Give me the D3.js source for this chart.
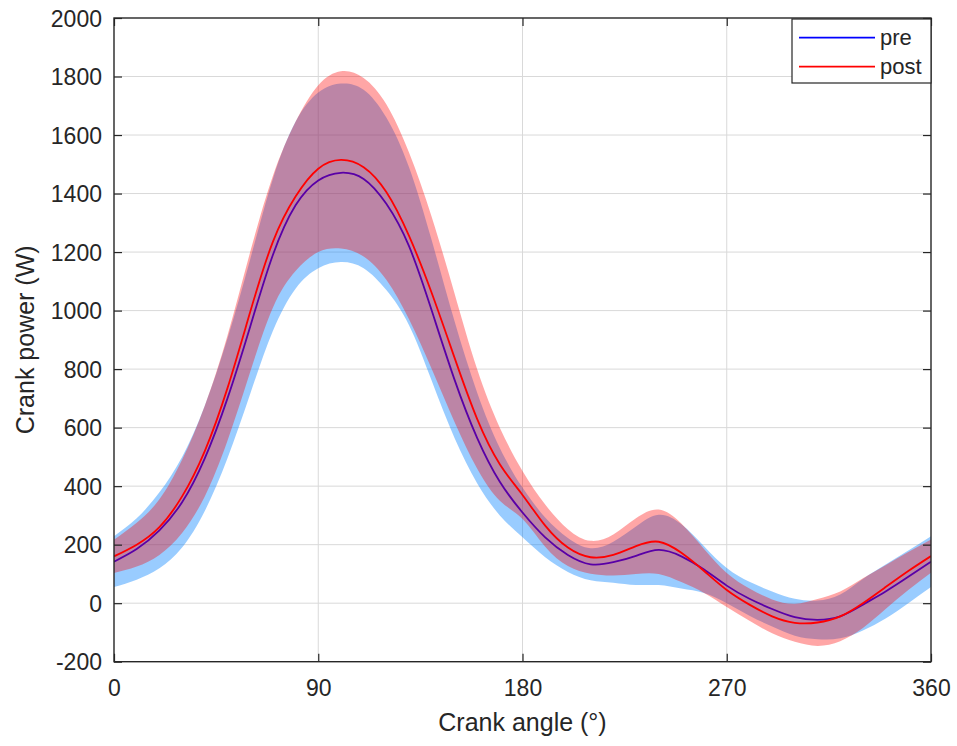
<!DOCTYPE html>
<html><head><meta charset="utf-8">
<script src="https://cdn.jsdelivr.net/npm/d3@7"></script>
<style>
body{margin:0;background:#fff;}
text{font-family:Arial,"Liberation Sans",Helvetica,sans-serif;fill:#262626;}
</style>
</head><body>
<svg id="c" width="957" height="746"></svg>
<script>
const angles   = [0,10,20,30,40,50,60,70,80,90,100,110,120,130,140,150,160,170,180,190,200,210,220,230,240,250,260,270,280,290,300,310,320,330,340,350,360];
const preMean  = [142,185,249,345,495,700,945,1190,1360,1445,1471,1450,1365,1220,1000,765,565,415,310,225,165,133,140,162,182,160,115,60,15,-20,-48,-57,-45,-5,40,90,142];
const preSD    = [87,105,130,155,180,205,230,260,285,300,305,305,295,270,240,200,155,115,85,68,58,55,70,100,120,110,80,60,58,60,63,66,75,88,92,90,87];
const postMean = [160,200,260,365,520,735,995,1235,1390,1485,1515,1490,1405,1255,1060,840,630,475,370,265,190,157,165,195,210,172,110,45,-5,-45,-67,-66,-45,0,55,110,161];
const postSD   = [57,75,95,125,155,180,205,225,255,285,303,305,300,285,260,220,170,125,82,72,63,56,70,95,110,100,75,58,55,58,65,80,85,85,75,65,57];
const xTicks = [0,90,180,270,360];
const yTicks = [-200,0,200,400,600,800,1000,1200,1400,1600,1800,2000];
const seriesNames = ["pre","post"];
const lineColors = ["#0000ff","#ff0000"];
const fillColors = ["rgb(0,128,255)","rgb(255,0,0)"];
const fillOpac = [0.4,0.35];

(function(){
const svg = d3.select("#c");
const X0=114, X1=931, Y0=661.7, Y1=18;
const x = d3.scaleLinear().domain([0,360]).range([X0,X1]);
const y = d3.scaleLinear().domain([-200,2000]).range([Y0,Y1]);

svg.append("defs").append("clipPath").attr("id","clip")
  .append("rect").attr("x",X0).attr("y",Y1).attr("width",X1-X0).attr("height",Y0-Y1);

const g = svg.append("g");
g.selectAll(".gy").data(yTicks.slice(1,-1)).enter().append("line")
  .attr("x1",X0).attr("x2",X1).attr("y1",d=>y(d)).attr("y2",d=>y(d))
  .attr("stroke","#d9d9d9").attr("stroke-width",1);
g.selectAll(".gx").data(xTicks.slice(1,-1)).enter().append("line")
  .attr("y1",Y1).attr("y2",Y0).attr("x1",d=>x(d)).attr("x2",d=>x(d))
  .attr("stroke","#d9d9d9").attr("stroke-width",1);

const plot = svg.append("g").attr("clip-path","url(#clip)");
const series = [
  {mean:preMean, sd:preSD},
  {mean:postMean, sd:postSD}
];
const curve = d3.curveNatural;
series.forEach((s,i)=>{
  const pts = angles.map((a,k)=>({a, m:s.mean[k], sd:s.sd[k]}));
  const area = d3.area().x(d=>x(d.a)).y0(d=>y(d.m-d.sd)).y1(d=>y(d.m+d.sd)).curve(curve);
  const line = d3.line().x(d=>x(d.a)).y(d=>y(d.m)).curve(curve);
  plot.append("path").attr("d",area(pts)).attr("fill",fillColors[i]).attr("fill-opacity",fillOpac[i]).attr("stroke","none");
  plot.append("path").attr("d",line(pts)).attr("fill","none").attr("stroke",lineColors[i]).attr("stroke-width",1.8);
});

const axCol = "#262626";
const fmt = d => String(d);
const axL = svg.append("g").attr("transform",`translate(${X0},0)`)
  .call(d3.axisLeft(y).tickValues(yTicks).tickSizeInner(-8).tickSizeOuter(0).tickPadding(12).tickFormat(fmt));
const axR = svg.append("g").attr("transform",`translate(${X1},0)`)
  .call(d3.axisRight(y).tickValues(yTicks).tickSizeInner(-8).tickSizeOuter(0).tickFormat(""));
const axB = svg.append("g").attr("transform",`translate(0,${Y0})`)
  .call(d3.axisBottom(x).tickValues(xTicks).tickSizeInner(-8).tickSizeOuter(0).tickPadding(18).tickFormat(fmt));
const axT = svg.append("g").attr("transform",`translate(0,${Y1})`)
  .call(d3.axisTop(x).tickValues(xTicks).tickSizeInner(-8).tickSizeOuter(0).tickFormat(""));
[axL,axR,axB,axT].forEach(a=>{
  a.select(".domain").remove();
  a.selectAll(".tick line").attr("stroke",axCol).attr("stroke-width",1.2);
  a.selectAll("text").style("font-size","23px").attr("fill",axCol);
});
axL.selectAll("text").attr("dy","0.36em");
svg.append("rect").attr("x",X0).attr("y",Y1).attr("width",X1-X0).attr("height",Y0-Y1)
  .attr("fill","none").attr("stroke",axCol).attr("stroke-width",1.4);

svg.append("text").attr("x",(X0+X1)/2).attr("y",731).attr("text-anchor","middle")
  .style("font-size","25px").text("Crank angle (°)");
svg.append("text").attr("transform",`translate(34,${(Y0+Y1)/2}) rotate(-90)`).attr("text-anchor","middle")
  .style("font-size","25px").text("Crank power (W)");

const lg = svg.append("g");
lg.append("rect").attr("x",792).attr("y",19).attr("width",139).attr("height",64)
  .attr("fill","#fff").attr("stroke",axCol).attr("stroke-width",1.2);
seriesNames.forEach((n,i)=>{
  const yy = 37.7 + i*29;
  lg.append("line").attr("x1",799).attr("x2",875).attr("y1",yy).attr("y2",yy)
    .attr("stroke",lineColors[i]).attr("stroke-width",1.8);
  lg.append("text").attr("x",880).attr("y",yy).attr("dy","0.35em")
    .style("font-size","22px").attr("fill","#000").text(n);
});
})();
</script>
</body></html>
